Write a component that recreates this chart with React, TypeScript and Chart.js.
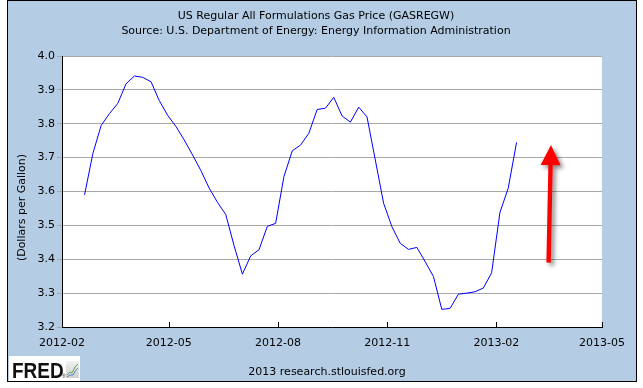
import React, { useEffect, useRef } from 'react';
import { Chart, registerables } from 'chart.js';

Chart.register(...registerables);

const titleLines = [
  'US Regular All Formulations Gas Price (GASREGW)',
  'Source: U.S. Department of Energy: Energy Information Administration',
];
const yAxisTitle = '(Dollars per Gallon)';
const footerText = '2013 research.stlouisfed.org';
const logoText = 'FRED';

const weekDates = [
  '2012-02-20', '2012-02-27', '2012-03-05', '2012-03-12', '2012-03-19', '2012-03-26',
  '2012-04-02', '2012-04-09', '2012-04-16', '2012-04-23', '2012-04-30',
  '2012-05-07', '2012-05-14', '2012-05-21', '2012-05-28',
  '2012-06-04', '2012-06-11', '2012-06-18', '2012-06-25',
  '2012-07-02', '2012-07-09', '2012-07-16', '2012-07-23', '2012-07-30',
  '2012-08-06', '2012-08-13', '2012-08-20', '2012-08-27',
  '2012-09-03', '2012-09-10', '2012-09-17', '2012-09-24',
  '2012-10-01', '2012-10-08', '2012-10-15', '2012-10-22', '2012-10-29',
  '2012-11-05', '2012-11-12', '2012-11-19', '2012-11-26',
  '2012-12-03', '2012-12-10', '2012-12-17', '2012-12-24', '2012-12-31',
  '2013-01-07', '2013-01-14', '2013-01-21', '2013-01-28',
  '2013-02-04', '2013-02-11', '2013-02-18',
];

const gasPrices = [
  3.590, 3.712, 3.795, 3.830, 3.860, 3.918,
  3.941, 3.937, 3.924, 3.868, 3.825,
  3.792, 3.752, 3.708, 3.662,
  3.610, 3.568, 3.532, 3.440,
  3.356, 3.410, 3.428, 3.497, 3.506,
  3.644, 3.720, 3.737, 3.772,
  3.842, 3.846, 3.878, 3.823,
  3.805, 3.849, 3.820, 3.693, 3.565,
  3.496, 3.447, 3.429, 3.435,
  3.393, 3.349, 3.252, 3.255, 3.297,
  3.300, 3.304, 3.315, 3.360,
  3.538, 3.610, 3.745,
];

const xTickDates = ['2012-02-01', '2012-05-01', '2012-08-01', '2012-11-01', '2013-02-01', '2013-05-01'];
const yMin = 3.2;
const yMax = 4.0;
const yStep = 0.1;

const arrowFrom = { date: '2013-03-17', value: 3.39 };
const arrowTo = { date: '2013-03-19', value: 3.737 };

const BG = '#b4cde4';
const FONT = "'DejaVu Sans', Verdana, sans-serif";

const toTime = (d: string) => {
  const [y, m, dd] = d.split('-').map(Number);
  return Date.UTC(y, m - 1, dd);
};
const fmtMonth = (t: number) => {
  const d = new Date(t);
  return d.getUTCFullYear() + '-' + String(d.getUTCMonth() + 1).padStart(2, '0');
};

const decorPlugin = {
  id: 'decor',
  beforeDraw(chart: any) {
    const { ctx, chartArea: a, width, height } = chart;
    ctx.save();
    ctx.fillStyle = '#ffffff';
    ctx.fillRect(0, 0, width, height);
    ctx.fillStyle = BG;
    ctx.fillRect(7, 0, 630, 382);
    ctx.strokeStyle = '#000000';
    ctx.lineWidth = 1;
    ctx.strokeRect(7.5, 0.5, 629, 381);
    ctx.fillStyle = '#ffffff';
    ctx.fillRect(a.left, a.top, a.right - a.left, a.bottom - a.top);
    ctx.restore();
  },
  afterDraw(chart: any) {
    const { ctx, chartArea: a } = chart;
    const xs = chart.scales.x;
    const ys = chart.scales.y;
    ctx.save();

    // inner tick marks on x axis
    ctx.strokeStyle = '#000000';
    ctx.lineWidth = 1;
    ctx.beginPath();
    xs.ticks.forEach((t: any) => {
      const px = Math.round(xs.getPixelForValue(t.value)) + 0.5;
      ctx.moveTo(px, a.bottom);
      ctx.lineTo(px, a.bottom - 5);
    });
    ctx.stroke();

    // y-axis title
    ctx.fillStyle = '#000000';
    ctx.font = '11px ' + FONT;
    ctx.textAlign = 'center';
    ctx.textBaseline = 'middle';
    ctx.save();
    ctx.translate(a.left - 40, (a.top + a.bottom) / 2 + 16);
    ctx.rotate(-Math.PI / 2);
    ctx.fillText(yAxisTitle, 0, 0);
    ctx.restore();

    // footer
    ctx.fillText(footerText, 327, 372);

    // FRED logo
    ctx.fillStyle = '#ffffff';
    ctx.fillRect(9, 356, 71, 25);
    ctx.fillStyle = '#111111';
    ctx.textAlign = 'left';
    ctx.textBaseline = 'alphabetic';
    ctx.save();
    ctx.translate(12, 378);
    ctx.scale(1, 1.2);
    ctx.font = "bold 19px 'Liberation Sans', Arial, sans-serif";
    ctx.fillText(logoText, 0, 0);
    ctx.restore();
    ctx.font = "5px 'Liberation Sans', Arial, sans-serif";
    ctx.fillText('\u00AE', 62, 378);
    // small graph icon
    const g = ctx.createLinearGradient(0, 360, 0, 378);
    g.addColorStop(0, '#f4f4f4');
    g.addColorStop(1, '#d0d0d0');
    ctx.fillStyle = g;
    ctx.fillRect(66, 361, 13, 17);
    ctx.lineWidth = 1;
    ctx.strokeStyle = '#5aa85a';
    ctx.beginPath();
    ctx.moveTo(67, 375); ctx.lineTo(70, 372); ctx.lineTo(72, 373); ctx.lineTo(75, 367); ctx.lineTo(78, 364);
    ctx.stroke();
    ctx.strokeStyle = '#5a7ec8';
    ctx.beginPath();
    ctx.moveTo(67, 377); ctx.lineTo(70, 375); ctx.lineTo(73, 375); ctx.lineTo(76, 370); ctx.lineTo(78, 368);
    ctx.stroke();

    // red arrow annotation
    const x0 = xs.getPixelForValue(toTime(arrowFrom.date));
    const y0 = ys.getPixelForValue(arrowFrom.value);
    const x1 = xs.getPixelForValue(toTime(arrowTo.date));
    const y1 = ys.getPixelForValue(arrowTo.value);
    const ang = Math.atan2(y1 - y0, x1 - x0);
    const headLen = 20;
    const headHalf = 10;
    const sw = 2.2;
    const bx = x1 - headLen * Math.cos(ang);
    const by = y1 - headLen * Math.sin(ang);
    const px = -Math.sin(ang);
    const py = Math.cos(ang);
    ctx.shadowColor = 'rgba(0,0,0,0.45)';
    ctx.shadowBlur = 4;
    ctx.shadowOffsetX = 3;
    ctx.shadowOffsetY = 3;
    ctx.fillStyle = '#ff0000';
    ctx.beginPath();
    ctx.moveTo(x0 + px * sw, y0 + py * sw);
    ctx.lineTo(bx + px * sw, by + py * sw);
    ctx.lineTo(bx + px * headHalf, by + py * headHalf);
    ctx.lineTo(x1, y1);
    ctx.lineTo(bx - px * headHalf, by - py * headHalf);
    ctx.lineTo(bx - px * sw, by - py * sw);
    ctx.lineTo(x0 - px * sw, y0 - py * sw);
    ctx.closePath();
    ctx.fill();

    ctx.restore();
  },
};

export default function App() {
  const canvasRef = useRef<HTMLCanvasElement | null>(null);

  useEffect(() => {
    document.body.style.margin = '0';
    const canvas = canvasRef.current;
    if (!canvas) return;
    const chart = new Chart(canvas, {
      type: 'line',
      data: {
        datasets: [
          {
            label: 'GASREGW',
            data: weekDates.map((d, i) => ({ x: toTime(d), y: gasPrices[i] })),
            borderColor: '#0000ff',
            borderWidth: 1,
            pointRadius: 0,
            tension: 0,
            fill: false,
          },
        ],
      },
      options: {
        animation: false,
        responsive: false,
        devicePixelRatio: 1,
        layout: { padding: { left: 30, right: 41, top: 0, bottom: 39 } },
        plugins: {
          legend: { display: false },
          tooltip: { enabled: false },
          title: {
            display: true,
            text: titleLines,
            color: '#000000',
            font: { family: FONT, size: 11, weight: 'normal', lineHeight: 15 / 11 },
            padding: { top: 9, bottom: 17 },
          },
        },
        scales: {
          x: {
            type: 'linear',
            min: toTime(xTickDates[0]),
            max: toTime(xTickDates[xTickDates.length - 1]),
            afterBuildTicks: (scale: any) => {
              scale.ticks = xTickDates.map((d) => ({ value: toTime(d) }));
            },
            afterFit: (scale: any) => {
              scale.height = 22;
            },
            ticks: {
              autoSkip: false,
              maxRotation: 0,
              minRotation: 0,
              padding: 10,
              color: '#000000',
              font: { family: FONT, size: 11 },
              callback: (v: any) => fmtMonth(Number(v)),
            },
            grid: { drawOnChartArea: false, drawTicks: false },
            border: { color: '#000000', width: 1 },
          },
          y: {
            min: yMin,
            max: yMax,
            afterFit: (scale: any) => {
              scale.width = 32;
            },
            ticks: {
              stepSize: yStep,
              padding: 2,
              color: '#000000',
              font: { family: FONT, size: 11 },
              callback: (v: any) => Number(v).toFixed(1),
            },
            grid: { color: '#a8a8a8', lineWidth: 1, tickLength: 5 },
            border: { color: '#000000', width: 1 },
          },
        },
      },
      plugins: [decorPlugin],
    } as any);
    return () => chart.destroy();
  }, []);

  return (
    <div style={{ position: 'fixed', left: 0, top: 0, width: 643, height: 388 }}>
      <canvas ref={canvasRef} width={643} height={388} style={{ display: 'block' }} />
    </div>
  );
}
